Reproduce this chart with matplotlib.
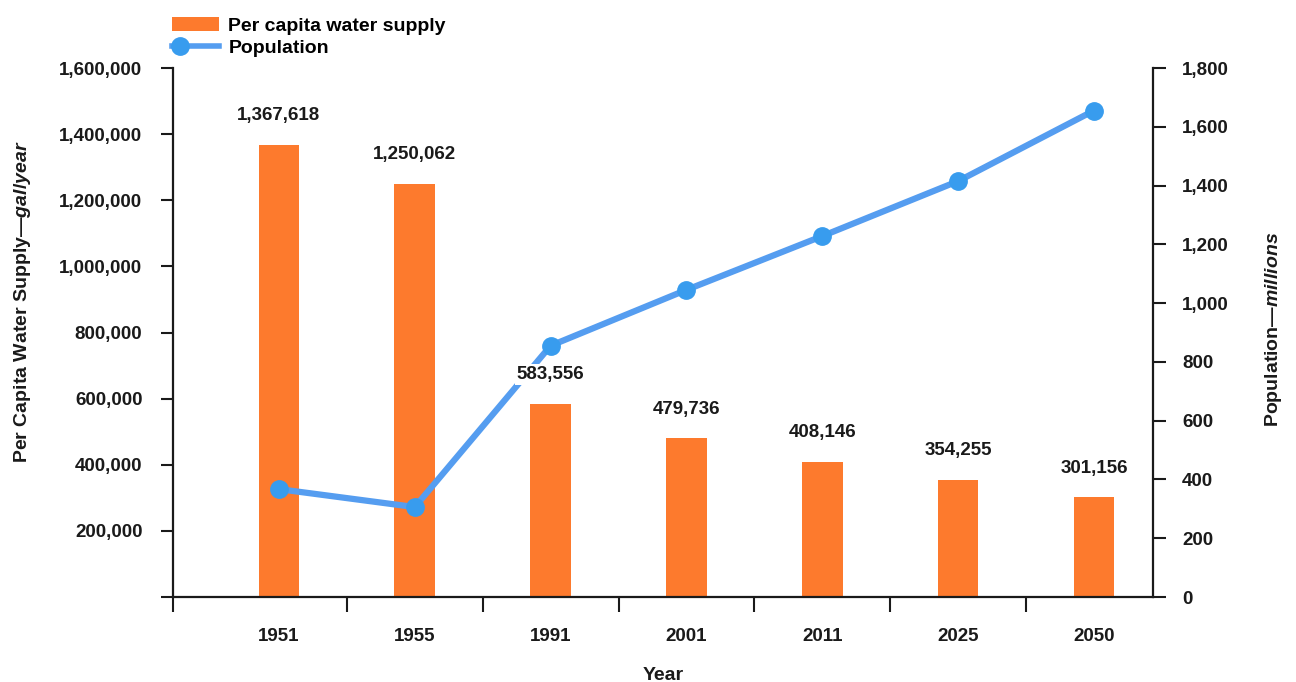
import numpy as np
import matplotlib
matplotlib.use("Agg")
import matplotlib.pyplot as plt
from matplotlib.patches import Patch
from matplotlib.lines import Line2D
from matplotlib.legend_handler import HandlerLine2D, HandlerTuple
from matplotlib.ticker import FixedLocator, FixedFormatter

# ---- data ----
years = ["1951", "1955", "1991", "2001", "2011", "2025", "2050"]
water_supply = [1367618, 1250062, 583556, 479736, 408146, 354255, 301156]
population = [367, 306, 855, 1045, 1228, 1415, 1655]
left_ticks = [0, 200000, 400000, 600000, 800000, 1000000, 1200000, 1400000, 1600000]
right_ticks = [0, 200, 400, 600, 800, 1000, 1200, 1400, 1600, 1800]

BAR_COLOR = "#FD7A2D"
LINE_COLOR = "#559DF0"
MARKER_COLOR = "#389CEE"
TXT = "#1a1a1a"

plt.rcParams["font.family"] = ["Liberation Sans", "DejaVu Sans"]
plt.rcParams["font.weight"] = "bold"
plt.rcParams["mathtext.fontset"] = "custom"
plt.rcParams["mathtext.rm"] = "Liberation Sans:bold"
plt.rcParams["mathtext.it"] = "Liberation Sans:italic:bold"

fig = plt.figure(figsize=(12.96, 6.82), dpi=100)
ax = fig.add_axes([173 / 1296, 1 - 597 / 682, (1153 - 173) / 1296, (597 - 68) / 682])
ax2 = ax.twinx()

x = np.arange(len(years))
ax.bar(x, water_supply, width=0.3, color=BAR_COLOR, zorder=2)
ax.set_ylim(0, 1600000)
ax.set_xlim(-0.78, 6.435)

ax2.plot(x, population, color=LINE_COLOR, lw=4.5, marker="o", ms=12.5,
         markerfacecolor=MARKER_COLOR, markeredgecolor=MARKER_COLOR, zorder=3)
ax2.set_ylim(0, 1800)

# bar value labels (above the line, white background)
for xi, v in zip(x, water_supply):
    ax2.annotate(f"{v:,}", xy=(xi, v), xycoords=ax.transData,
                 xytext=(0, 15), textcoords="offset points",
                 ha="center", va="bottom", fontsize=13.5, fontweight="bold", color=TXT,
                 bbox=dict(boxstyle="square,pad=0.1", fc="white", ec="none"), zorder=5)

# spines
for a in (ax, ax2):
    a.spines["top"].set_visible(False)
    for s in ("left", "right", "bottom"):
        a.spines[s].set_linewidth(1.6)
        a.spines[s].set_color(TXT)
ax.spines["right"].set_visible(False)
ax2.spines["left"].set_visible(False)
ax2.spines["bottom"].set_visible(False)

# left axis ticks
ax.yaxis.set_major_locator(FixedLocator(left_ticks))
ax.yaxis.set_major_formatter(FixedFormatter(["" if t == 0 else f"{t:,}" for t in left_ticks]))
ax.tick_params(axis="y", which="major", length=9, width=1.5, color=TXT, pad=13,
               labelsize=13.5, labelcolor=TXT)

# right axis ticks
ax2.yaxis.set_major_locator(FixedLocator(right_ticks))
ax2.yaxis.set_major_formatter(FixedFormatter([f"{t:,}" for t in right_ticks]))
ax2.tick_params(axis="y", which="major", length=9, width=1.5, color=TXT, pad=12,
                labelsize=13.5, labelcolor=TXT)

# x axis: labels at category centers, tick marks at boundaries
ax.set_xticks(x)
ax.set_xticklabels(years)
ax.tick_params(axis="x", which="major", length=0, pad=22, labelsize=13.5, labelcolor=TXT)
ax.xaxis.set_minor_locator(FixedLocator([-0.78] + [i + 0.5 for i in range(len(years) - 1)]))
ax.tick_params(axis="x", which="minor", length=11, width=1.5, color=TXT)

for lbl in ax.get_xticklabels() + ax.get_yticklabels() + ax2.get_yticklabels():
    lbl.set_fontweight("bold")

ax.set_xlabel("Year", fontsize=14, fontweight="bold", color=TXT, labelpad=16)
ax.set_ylabel("Per Capita Water Supply—$\\mathit{gal/year}$", fontsize=14,
              fontweight="bold", color=TXT)
ax.yaxis.set_label_coords(-0.143, 0.558)
ax2.set_ylabel("Population—$\\mathit{millions}$", fontsize=14, fontweight="bold",
               color=TXT)
ax2.yaxis.set_label_coords(1.112, 0.505)


class LeftMarkerHandler(HandlerLine2D):
    def get_xdata(self, legend, xdescent, ydescent, width, height, fontsize):
        xm = -xdescent + 0.17 * width
        return np.array([xm, xm], float), np.array([xm], float)


h_bar = Patch(facecolor=BAR_COLOR, edgecolor="none")
h_line_only = Line2D([], [], color=LINE_COLOR, lw=4)
h_marker = Line2D([], [], ls="none", marker="o", ms=12.5,
                  markerfacecolor=MARKER_COLOR, markeredgecolor=MARKER_COLOR)
fig.legend([h_bar, (h_line_only, h_marker)], ["Per capita water supply", "Population"],
           loc="upper left", bbox_to_anchor=(172 / 1296, 1 - 17 / 682),
           frameon=False, prop={"weight": "bold", "size": 14},
           handlelength=2.4, handleheight=0.7, handletextpad=0.5,
           labelspacing=0.25, borderpad=0, borderaxespad=0,
           handler_map={tuple: HandlerTuple(ndivide=1, pad=0), h_marker: LeftMarkerHandler()})

fig.savefig("out.png", dpi=100)
